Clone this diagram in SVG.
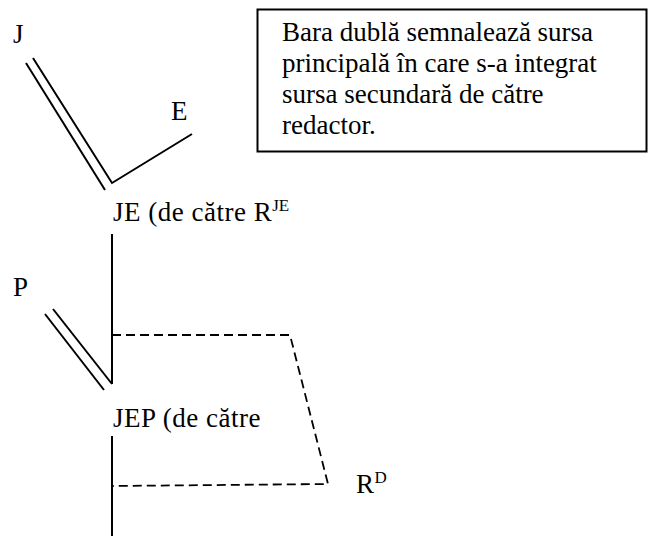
<svg xmlns="http://www.w3.org/2000/svg" width="648" height="536" viewBox="0 0 648 536">
<style>
.t{font-family:'Liberation Serif','Times New Roman',Tinos,'DejaVu Serif',serif;fill:#000}
.lbl{font-size:27px;letter-spacing:0.5px}
.sup{font-size:17px;letter-spacing:0}
.box{font-size:27px}
.ln{stroke:#000;stroke-width:2;fill:none}
.dash{stroke:#000;stroke-width:1.8;fill:none;stroke-dasharray:9,5}
</style>
<rect width="648" height="536" fill="#fff"/>
<g id="connectors">
<line class="ln" x1="26" y1="63" x2="105" y2="190"/>
<polyline class="ln" points="33,58 112,183 192,134"/>
<line class="ln" x1="112" y1="234" x2="112" y2="384"/>
<line class="ln" x1="45" y1="314" x2="104" y2="390"/>
<line class="ln" x1="53" y1="309" x2="112" y2="384"/>
<line class="ln" x1="112" y1="436" x2="112" y2="536"/>
<polyline class="dash" points="112,335 290,335 328,484 112,486"/>
</g>
<g id="node-J"><text class="t lbl" x="13" y="43">J</text></g>
<g id="node-E"><text class="t lbl" x="171" y="120">E</text></g>
<g id="node-JE"><text class="t lbl" x="113" y="221">JE (de către R<tspan class="sup" dy="-10">JE</tspan></text></g>
<g id="node-P"><text class="t lbl" x="13" y="296">P</text></g>
<g id="node-JEP"><text class="t lbl" x="113" y="427">JEP (de către</text></g>
<g id="node-RD"><text class="t lbl" x="356" y="493">R<tspan class="sup" dy="-10">D</tspan></text></g>
<g id="note">
<rect x="257.5" y="9.5" width="389" height="142" fill="#fff" stroke="#000" stroke-width="2"/>
<text class="t box" x="282" y="41">Bara dublă semnalează sursa</text>
<text class="t box" x="282" y="72">principală în care s-a integrat</text>
<text class="t box" x="282" y="103">sursa secundară de către</text>
<text class="t box" x="282" y="134">redactor.</text>
</g>
</svg>
